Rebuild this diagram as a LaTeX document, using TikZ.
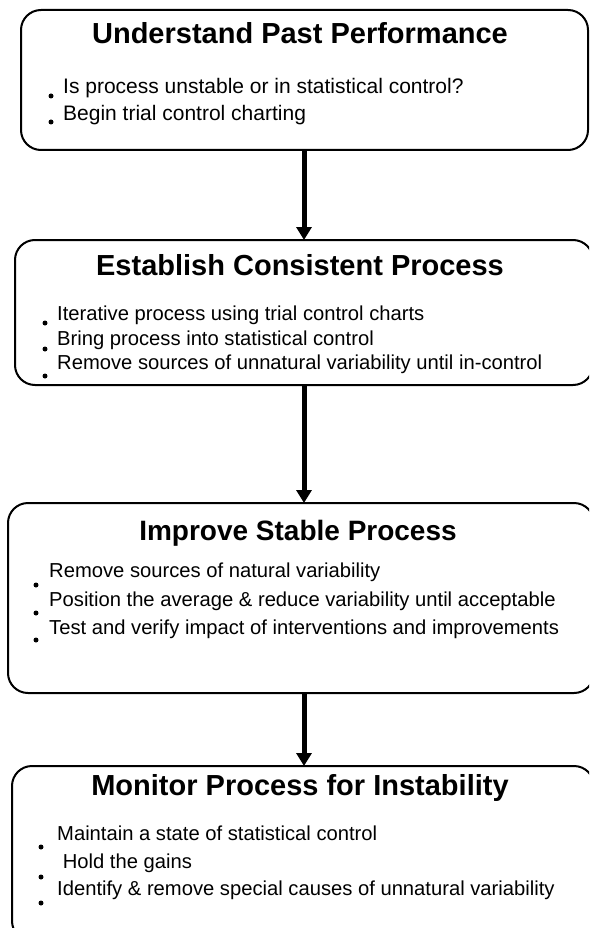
\documentclass[tikz,border=0pt]{standalone}
\usepackage{fontspec}
\setmainfont{Liberation Sans}
\usetikzlibrary{arrows.meta}
\begin{document}
\begin{tikzpicture}[x=1pt,y=-1pt,
  box/.style={draw=black, line width=2pt, rounded corners=20pt, anchor=north west, outer sep=0pt, inner sep=0pt},
  title/.style={anchor=base, inner sep=0pt, font=\fontsize{29}{31}\selectfont\bfseries},
  item/.style={anchor=base west, inner sep=0pt, font=\fontsize{20.2}{24}\selectfont},
  dot/.style={circle, fill=black, inner sep=0pt, minimum size=5pt},
  arr/.style={line width=5pt, -{Triangle[width=15pt,length=13pt]}}]
\useasboundingbox (0,0) rectangle (589,928);
\clip (0,0) rectangle (589,928);
% boxes
\node[box, minimum width=567pt, minimum height=140pt] (b1) at (21,10) {};
\node[box, minimum width=578pt, minimum height=145pt] (b2) at (15,240) {};
\node[box, minimum width=586pt, minimum height=190pt] (b3) at (8,503) {};
\node[box, minimum width=582pt, minimum height=175pt] (b4) at (12,766) {};
% box 1
\node[title] (t1) at (300,44) {Understand Past Performance};
\node[item, font=\fontsize{21}{24}\selectfont] (l11) at (63,94) {Is process unstable or in statistical control?};
\node[item, font=\fontsize{21}{24}\selectfont] (l12) at (63,121) {Begin trial control charting};
\node[dot] (d11) at (51,96) {};
\node[dot] (d12) at (51,122) {};
% box 2
\node[title] (t2) at (300,275) {Establish Consistent Process};
\node[item] (l21) at (57,320) {Iterative process using trial control charts};
\node[item] (l22) at (57,345) {Bring process into statistical control};
\node[item] (l23) at (57,369) {Remove sources of unnatural variability until in-control};
\node[dot] (d21) at (45,323) {};
\node[dot] (d22) at (45,349) {};
\node[dot] (d23) at (45,376) {};
% box 3
\node[title, font=\fontsize{28}{30}\selectfont\bfseries] (t3) at (298,540) {Improve Stable Process};
\node[item] (l31) at (49,577) {Remove sources of natural variability};
\node[item] (l32) at (49,606) {Position the average \& reduce variability until acceptable};
\node[item] (l33) at (49,634) {Test and verify impact of interventions and improvements};
\node[dot] (d31) at (36,585) {};
\node[dot] (d32) at (36,613) {};
\node[dot] (d33) at (36,640) {};
% box 4
\node[title] (t4) at (300,795) {Monitor Process for Instability};
\node[item] (l41) at (57,840) {Maintain a state of statistical control};
\node[item] (l42) at (57,868) {\ Hold the gains};
\node[item] (l43) at (57,895) {Identify \& remove special causes of unnatural variability};
\node[dot] (d41) at (41,847) {};
\node[dot] (d42) at (41,877) {};
\node[dot] (d43) at (41,903) {};
% arrows
\coordinate (ax) at (304,0);
\draw[arr] (b1.south -| ax) -- (b2.north -| ax);
\draw[arr] (b2.south -| ax) -- (b3.north -| ax);
\draw[arr] (b3.south -| ax) -- (b4.north -| ax);
\end{tikzpicture}
\end{document}
